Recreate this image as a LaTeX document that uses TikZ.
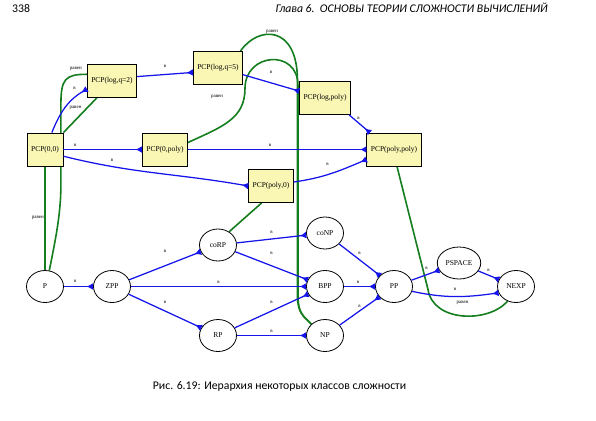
\documentclass[tikz,border=0pt]{standalone}
\usepackage{fontspec}
\setmainfont{Liberation Serif}
\newfontfamily\pagefont{Carlito}
\usetikzlibrary{arrows.meta,shapes.geometric,positioning,backgrounds}
\definecolor{pcpfill}{RGB}{250,246,180}
\definecolor{subblue}{RGB}{20,20,235}
\definecolor{eqgreen}{RGB}{20,125,30}
\begin{document}
\begin{tikzpicture}[x=1bp, y=1bp,
    pcp/.style={draw, fill=pcpfill, line width=0.8bp, minimum width=36bp,
      minimum height=33bp, inner xsep=4bp, font=\fontsize{7.5}{9}\selectfont},
    cls/.style={draw, ellipse, line width=0.8bp, minimum width=37bp,
      minimum height=32bp, inner xsep=2bp, inner ysep=1bp,
      font=\fontsize{7.5}{9}\selectfont},
    sub/.style={draw=subblue, line width=1.25bp,
      -{Latex[reversed, length=6.5bp, width=7bp]}},
    eq/.style={draw=eqgreen, line width=1.6bp},
    lbl/.style={font=\fontsize{5}{6}\selectfont, inner sep=0.5bp},
    pagetext/.style={font=\pagefont\fontsize{11.8}{14}\selectfont, inner sep=0pt}]
    \begin{scope}[on background layer]
        \fill[white] (0,0) rectangle (596,-420);
    \end{scope}
    \useasboundingbox (0,0) rectangle (596,-420);
    \node[pagetext, anchor=base west] (page-no) at (12,-12) {338};
    \node[pagetext, anchor=base east] (run-head) at (548,-12)
      {\itshape Глава 6.\ \ ОСНОВЫ ТЕОРИИ СЛОЖНОСТИ ВЫЧИСЛЕНИЙ};
    \node[pagetext, anchor=base] (fig-caption) at (279.5,-389)
      {Рис. 6.19: Иерархия некоторых классов сложности};
    \foreach \bname/\btext/\bx/\by in {0-0/{PCP(0,0)}/45/149.5,
        log-q2/{PCP(log,q=2)}/112/81, log-q5/{PCP(log,q=5)}/218/68,
        0-poly/{PCP(0,poly)}/165/149.5, log-poly/{PCP(log,poly)}/325/98,
        poly-poly/{PCP(poly,poly)}/394/149.5, poly-0/{PCP(poly,0)}/271/186} {
        \node[pcp] (pcp-\bname) at (\bx,-\by) {\btext};
    }
    \foreach \cname/\cx/\cy in {P/45/286.5, ZPP/112/286.5, coRP/218/245,
        RP/218/335.5, coNP/325/233, BPP/325/286.5, NP/325/335.5, PP/394/286.5,
        PSPACE/459/263, NEXP/516/286.5} {
        \node[cls] (c-\cname) at (\cx,-\cy) {\cname};
    }
    % равен
    \begin{scope}[on background layer]
    \draw[eq] (pcp-0-0) -- node[lbl, left=0bp] {равен} (c-P);
    \draw[eq] (pcp-log-q2.165) .. controls +(-22,0) and +(0,25) .. ++(-26,-30)
      node[lbl, pos=0.2, above=3bp] {равен} -- ++(0,-80)
      .. controls +(0,-30) and +(6,30) .. (c-P.75);
    \draw[eq] (pcp-0-0.north east) -- node[lbl, pos=0.6, above left=1bp] {равен}
      (pcp-log-q2.228);
    \draw[eq] (pcp-log-q5.37) .. controls +(18,26) and +(0,55) .. ++(57,-29)
      node[lbl, pos=0.45, above=0bp] {равен} -- ++(0,-215)
      .. controls +(0,-18) and +(-8,8) .. (c-NP.140);
    \draw[eq] (pcp-0-poly.17) .. controls +(35,16) and +(0,-30) .. ++(57,54)
      node[lbl, pos=0.9, left=20bp] {равен}
      .. controls +(0,36) and +(0,37) .. ++(53,3) -- ++(0,-210)
      .. controls +(0,-18) and +(-8,8) .. (c-NP.140);
    \draw[eq] (pcp-poly-0.241) -- (c-coRP.50);
    \draw[eq] (pcp-poly-poly.-80) -- ++(31,-123)
      .. controls +(5,-33) and +(-19,-22) .. (c-NEXP.240)
      node[lbl, pos=0.5, above=10bp] {равен};
    \end{scope}
    % в
    \draw[sub] (pcp-0-0.68) to[out=68, in=210] node[lbl, pos=0.75, above=7bp] {в}
      (pcp-log-q2.198);
    \draw[sub] (pcp-log-q2.10) -- node[lbl, above=6bp] {в} (pcp-log-q5.190);
    \draw[sub] (pcp-log-q5.-15) -- node[lbl, above=8bp] {в} (pcp-log-poly.165);
    \draw[sub] (pcp-log-poly.-35) -- node[lbl, pos=0.2, right=3bp] {в}
      (pcp-poly-poly.145);
    \draw[sub] (pcp-0-0) -- node[lbl, pos=0.15, above=2.3bp] {в} (pcp-0-poly);
    \draw[sub] (pcp-0-poly) -- node[lbl, pos=0.46, above=2.3bp] {в} (pcp-poly-poly);
    \draw[sub] (pcp-0-0.-20) to[out=-14, in=170] node[lbl, pos=0.25, above=4bp] {в}
      (pcp-poly-0.west);
    \draw[sub] (pcp-poly-0.10) to[out=8, in=203] node[lbl, pos=0.45, above=8bp] {в}
      (pcp-poly-poly.200);
    \draw[sub] (c-P) -- node[lbl, pos=0.39, above=3bp] {в} (c-ZPP);
    \draw[sub] (c-ZPP) -- node[lbl, above=12bp] {в} (c-coRP);
    \draw[sub] (c-ZPP) -- node[lbl, above=6bp] {в} (c-RP);
    \draw[sub] (c-ZPP) -- node[lbl, above=2.3bp] {в} (c-BPP);
    \draw[sub] (c-coRP) -- node[lbl, above=4bp] {в} (c-coNP);
    \draw[sub] (c-coRP) -- node[lbl, above=10bp] {в} (c-BPP);
    \draw[sub] (c-RP) -- node[lbl, above=6bp] {в} (c-BPP);
    \draw[sub] (c-RP) -- node[lbl, above=2.3bp] {в} (c-NP);
    \draw[sub] (c-coNP) -- node[lbl, above=4bp] {в} (c-PP);
    \draw[sub] (c-BPP) -- node[lbl, pos=0.45, above=2.3bp] {в} (c-PP);
    \draw[sub] (c-NP) -- node[lbl, above=2bp] {в} (c-PP);
    \draw[sub] (c-PP) -- node[lbl, pos=0.55, above=4bp] {в} (c-PSPACE);
    \draw[sub] (c-PSPACE) -- node[lbl, above=3bp] {в} (c-NEXP);
    \draw[sub] (c-PP.-15) to[out=-12, in=188] node[lbl, above=5bp] {в} (c-NEXP.200);
\end{tikzpicture}
\end{document}
